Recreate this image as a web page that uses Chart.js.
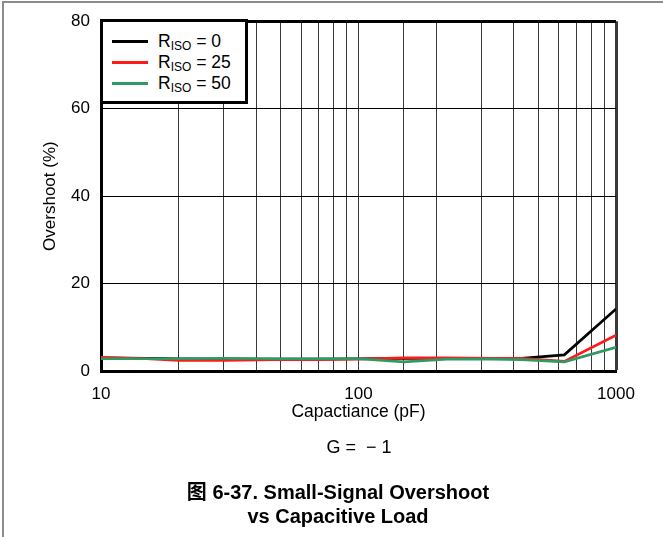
<!DOCTYPE html>
<html>
<head>
<meta charset="utf-8">
<script src="https://cdn.jsdelivr.net/npm/chart.js@4.4.1/dist/chart.umd.min.js"></script>
<style>
    body { margin: 0; background: #fff; font-family: "Liberation Sans", Arial, "Noto Sans CJK SC", sans-serif; }
    #wrap { position: relative; width: 663px; height: 537px; overflow: hidden; }
    #frame { position: absolute; left: 2px; top: 1px; width: 700px; height: 600px;
             border-left: 2px solid #8c8c8c; border-top: 2px solid #8c8c8c; }
    canvas { position: absolute; left: 0; top: 0; }
    #legend { position: absolute; left: 100px; top: 19px; width: 142px; height: 79px;
              border: 3px solid #000; background: #fff; }
    .row { position: absolute; left: 0; height: 20px; width: 140px; }
    .swatch { position: absolute; left: 9px; top: 9px; width: 36px; height: 3px; }
    .label { position: absolute; left: 55px; top: 0; font-size: 17.5px; line-height: 20px; color: #000; white-space: nowrap; }
    .label sub { font-size: 12px; vertical-align: -3px; line-height: 0; }
    .note { position: absolute; color: #000; white-space: pre; text-align: center; }
</style>
</head>
<body>
<div id="wrap">
    <div id="frame"></div>
    <canvas id="chart" width="663" height="537"></canvas>
    <div id="legend"></div>
    <div class="note" style="left: 259px; top: 437px; width: 200px; font-size: 18px;">G =  − 1</div>
    <div class="note" style="left: 88px; top: 480px; width: 500px; font-size: 20px; font-weight: bold; line-height: 24px;">图 6-37. Small-Signal Overshoot<br>vs Capacitive Load</div>
</div>
<script>
document.addEventListener('DOMContentLoaded', () => {
    // --- DATA ---
    const capacitance = [10, 15, 20, 30, 47, 68, 100, 150, 220, 330, 430, 630, 1000];
    const overshootR0 = [3.0, 2.9, 2.8, 2.7, 2.7, 2.7, 2.8, 2.9, 2.9, 2.9, 2.9, 3.7, 14.2];
    const overshootR25 = [3.1, 2.8, 2.4, 2.4, 2.6, 2.6, 2.7, 3.0, 3.0, 2.9, 2.9, 2.2, 8.2];
    const overshootR50 = [2.8, 2.8, 2.8, 2.9, 2.8, 2.8, 2.8, 2.1, 2.7, 2.7, 2.6, 2.1, 5.4];
    const seriesNames = ['0', '25', '50'];
    const seriesColors = ['#000000', '#ff1a1a', '#2f9a64'];
    const xTickLabels = [10, 100, 1000];
    const yTicks = [0, 20, 40, 60, 80];

    const FONT = "'Liberation Sans', Arial, sans-serif";

    // --- LEGEND (html so the subscript stays real text) ---
    const legend = document.getElementById('legend');
    seriesNames.forEach((name, i) => {
        const row = document.createElement('div');
        row.className = 'row';
        row.style.top = (9 + i * 21) + 'px';
        row.innerHTML = `<div class="swatch" style="background:${seriesColors[i]}"></div>
            <div class="label">R<sub>ISO</sub> = ${name}</div>`;
        legend.appendChild(row);
    });

    const toPoints = (ys) => capacitance.map((c, i) => ({ x: c, y: ys[i] }));
    const allSeries = [overshootR0, overshootR25, overshootR50];

    new Chart(document.getElementById('chart'), {
        type: 'line',
        data: {
            datasets: allSeries.map((ys, i) => ({
                label: 'RISO = ' + seriesNames[i],
                data: toPoints(ys),
                borderColor: seriesColors[i],
                backgroundColor: seriesColors[i],
                borderWidth: 2.7,
                pointRadius: 0,
                tension: 0,
                order: 3 - i
            }))
        },
        options: {
            responsive: false,
            animation: false,
            layout: { padding: { top: 21, right: 47, bottom: 0, left: 0 } },
            plugins: { legend: { display: false }, tooltip: { enabled: false } },
            scales: {
                x: {
                    type: 'logarithmic',
                    min: 10,
                    max: 1000,
                    afterFit: (s) => { s.height = 166; },
                    border: { color: '#000', width: 3 },
                    grid: {
                        drawTicks: false,
                        color: '#3a3a3a',
                        lineWidth: (ctx) => (ctx.tick && ctx.tick.value === 1000 ? 3 : 1)
                    },
                    ticks: {
                        autoSkip: false,
                        maxRotation: 0,
                        padding: 13,
                        color: '#000',
                        font: { family: FONT, size: 17 },
                        callback: (v) => (xTickLabels.includes(v) ? String(v) : '')
                    },
                    title: {
                        display: true,
                        text: 'Capactiance (pF)',
                        color: '#000',
                        font: { family: FONT, size: 17.5 },
                        padding: { top: 0, bottom: 114 }
                    }
                },
                y: {
                    min: 0,
                    max: 80,
                    afterFit: (s) => { s.width = 101; },
                    afterBuildTicks: (s) => { s.ticks = yTicks.map(v => ({ value: v })); },
                    border: { color: '#000', width: 3 },
                    grid: {
                        drawTicks: false,
                        color: '#000',
                        lineWidth: (ctx) => (ctx.tick && ctx.tick.value === 80 ? 3 : 1)
                    },
                    ticks: {
                        padding: 11,
                        color: '#000',
                        font: { family: FONT, size: 17 }
                    },
                    title: {
                        display: true,
                        text: 'Overshoot (%)',
                        color: '#000',
                        font: { family: FONT, size: 17 },
                        padding: { top: 40, bottom: 0 }
                    }
                }
            }
        }
    });
});
</script>
</body>
</html>
